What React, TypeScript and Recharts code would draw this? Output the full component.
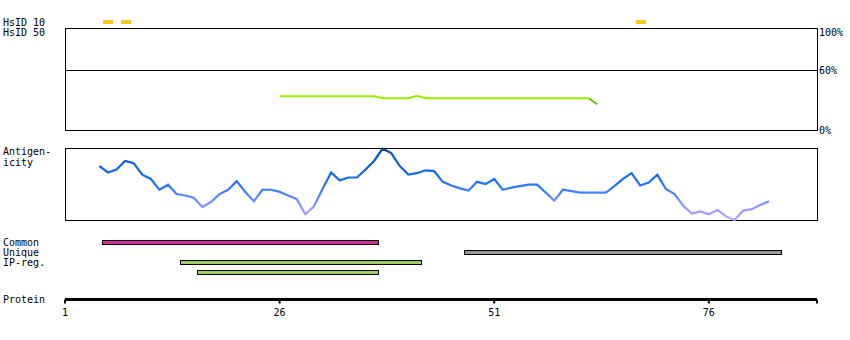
import React from 'react';
import {
  BarChart,
  Bar,
  LineChart,
  Line,
  ComposedChart,
  XAxis,
  YAxis,
  ReferenceArea,
  ReferenceLine,
  Cell,
} from 'recharts';

const MONO = "'DejaVu Sans Mono', monospace";
const W = 850;

// residue axis
const RESIDUE_DOMAIN: [number, number] = [1, 88.6];
const POSITION_TICKS = [1, 26, 51, 76, 88.6];

// HsID 10 hits (residue numbers)
const hsId10Hits = [6, 8, 68];

// HsID 50 identity in %, residues 26..63
const IDENTITY_FIRST = 26;
const IDENTITY_MAX = 102;
const IDENTITY_TICKS = [0, 60, 100];
const identityPct = [
  33.7, 33.7, 33.7, 33.7, 33.7, 33.7, 33.7, 33.7, 33.7, 33.7, 33.7, 33.7,
  31.7, 31.7, 31.7, 31.7, 34.3, 31.7, 31.7, 31.7, 31.7, 31.7, 31.7, 31.7,
  31.7, 31.7, 31.7, 31.7, 31.7, 31.7, 31.7, 31.7, 31.7, 31.7, 31.7, 31.7,
  31.7, 25.7,
];
const IDENTITY_LOW = 30;

// antigenicity score 0..1, residues 5..83
const ANTIGEN_FIRST = 5;
const antigenScores = [
  0.75, 0.66, 0.70, 0.82, 0.79, 0.63, 0.57, 0.42, 0.49, 0.36,
  0.34, 0.31, 0.18, 0.25, 0.36, 0.42, 0.54, 0.39, 0.26, 0.42,
  0.42, 0.39, 0.34, 0.29, 0.08, 0.19, 0.43, 0.66, 0.55, 0.59,
  0.59, 0.70, 0.82, 0.99, 0.93, 0.75, 0.63, 0.65, 0.69, 0.68,
  0.53, 0.48, 0.44, 0.41, 0.53, 0.50, 0.57, 0.42, 0.45, 0.47,
  0.49, 0.49, 0.38, 0.27, 0.42, 0.40, 0.38, 0.38, 0.38, 0.38,
  0.47, 0.57, 0.65, 0.48, 0.52, 0.63, 0.43, 0.36, 0.20, 0.09,
  0.12, 0.08, 0.14, 0.05, 0.00, 0.13, 0.15, 0.21, 0.26,
];

// feature tracks
const featureLabels = ['Common', 'Unique', 'IP-reg.', ' '];
const featureStarts = [5.4, 47.5, 14.4, 16.4];
const featureEnds = [37.5, 84.5, 42.5, 37.5];
const featureColors = ['#cc3399', '#999999', '#a0cc66', '#a0cc66'];

const hitData = hsId10Hits.map((r) => ({ res: r, hit: 1 }));

// low-identity stretch is drawn darker, joined to the point before it
const identityData = identityPct.map((v, i) => {
  const next = identityPct[i + 1];
  const low = v < IDENTITY_LOW || (next !== undefined && next < IDENTITY_LOW);
  return {
    res: IDENTITY_FIRST + i,
    pct: v >= IDENTITY_LOW ? v : null,
    tail: low ? v : null,
  };
});

const antigenData = antigenScores.map((v, i) => ({ res: ANTIGEN_FIRST + i, score: v }));

const featureData = featureLabels.map((label, i) => ({
  label,
  range: [featureStarts[i], featureEnds[i]],
  color: featureColors[i],
}));

const axisData = POSITION_TICKS.map((r) => ({ res: r }));

function PctTick({ x, y, payload }: any) {
  const shift = payload.value === 100 ? 2 : 0;
  return (
    <text x={x} y={y + shift + 3.5} textAnchor="start" fontSize={10} fontFamily={MONO} fill="#000">
      {payload.value}%
    </text>
  );
}

function RowTick({ y, payload }: any) {
  return (
    <text x={3} y={y + 3.5} textAnchor="start" fontSize={10} fontFamily={MONO} fill="#000">
      {payload.value}
    </text>
  );
}

const abs = (top: number, height: number): React.CSSProperties => ({
  position: 'absolute',
  left: 0,
  top,
  width: W,
  height,
});

export default function App() {
  return (
    <div style={{ position: 'absolute', left: 0, top: 0, width: W, height: 340, background: '#fff' }}>
      <style>{`.recharts-reference-area-rect, .recharts-reference-line-line, .recharts-rectangle { shape-rendering: crispEdges; }`}</style>

      {/* HsID 10 hits */}
      <div style={abs(16, 12)}>
        <BarChart width={W} height={12} data={hitData} margin={{ top: 4, right: 33, bottom: 4, left: 65 }}>
          <XAxis type="number" dataKey="res" domain={RESIDUE_DOMAIN} hide />
          <YAxis domain={[0, 1]} hide />
          <Bar dataKey="hit" fill="#fcc820" barSize={10} isAnimationActive={false} />
        </BarChart>
      </div>

      {/* HsID 50 identity */}
      <div style={abs(0, 140)}>
        <LineChart width={W} height={140} data={identityData} margin={{ top: 28, right: 0, bottom: 10, left: 65 }}>
          <XAxis type="number" dataKey="res" domain={RESIDUE_DOMAIN} hide />
          <YAxis
            orientation="right"
            domain={[0, IDENTITY_MAX]}
            ticks={IDENTITY_TICKS}
            interval={0}
            width={33}
            axisLine={false}
            tickLine={false}
            tickSize={0}
            tickMargin={2}
            tick={<PctTick />}
          />
          <ReferenceArea x1={RESIDUE_DOMAIN[0]} x2={RESIDUE_DOMAIN[1]} y1={0} y2={IDENTITY_MAX} fill="none" stroke="#000" strokeWidth={1} fillOpacity={0} />
          <ReferenceLine y={60} stroke="#000" strokeWidth={1} />
          <Line dataKey="pct" stroke="#99ee00" strokeWidth={2} dot={false} isAnimationActive={false} connectNulls={false} />
          <Line dataKey="tail" stroke="#66bb11" strokeWidth={2} dot={false} isAnimationActive={false} connectNulls={false} />
        </LineChart>
      </div>

      {/* Antigenicity */}
      <div style={abs(140, 90)}>
        <LineChart width={W} height={90} data={antigenData} margin={{ top: 8, right: 33, bottom: 10, left: 65 }}>
          <defs>
            <linearGradient id="antigenGrad" x1="0" y1="0" x2="0" y2="1">
              <stop offset="0" stopColor="#08449a" />
              <stop offset="0.1" stopColor="#0d56c4" />
              <stop offset="0.25" stopColor="#1264e4" />
              <stop offset="0.45" stopColor="#1a70f5" />
              <stop offset="0.6" stopColor="#3f80ff" />
              <stop offset="0.75" stopColor="#7890ff" />
              <stop offset="0.9" stopColor="#a49eff" />
              <stop offset="1" stopColor="#b4a4f8" />
            </linearGradient>
          </defs>
          <XAxis type="number" dataKey="res" domain={RESIDUE_DOMAIN} hide />
          <YAxis domain={[0, 1]} hide />
          <ReferenceArea x1={RESIDUE_DOMAIN[0]} x2={RESIDUE_DOMAIN[1]} y1={0} y2={1} fill="none" stroke="#000" strokeWidth={1} fillOpacity={0} />
          <Line dataKey="score" stroke="url(#antigenGrad)" strokeWidth={2.2} dot={false} isAnimationActive={false} />
        </LineChart>
      </div>

      {/* Feature tracks */}
      <div style={abs(230, 60)}>
        <BarChart width={W} height={60} data={featureData} layout="vertical" margin={{ top: 7, right: 33, bottom: 13, left: 0 }}>
          <XAxis type="number" domain={RESIDUE_DOMAIN} hide />
          <YAxis type="category" dataKey="label" width={65} interval={0} axisLine={false} tickLine={false} tick={<RowTick />} />
          <Bar dataKey="range" barSize={4} stroke="#000" strokeWidth={1} isAnimationActive={false}>
            {featureData.map((d, i) => (
              <Cell key={i} fill={d.color} />
            ))}
          </Bar>
        </BarChart>
      </div>

      {/* Protein position axis */}
      <div style={abs(285, 45)}>
        <ComposedChart width={W} height={45} data={axisData} margin={{ top: 0, right: 33, bottom: 0, left: 65 }}>
          <XAxis
            type="number"
            dataKey="res"
            domain={RESIDUE_DOMAIN}
            ticks={POSITION_TICKS}
            interval={0}
            height={30.5}
            axisLine={{ stroke: '#000', strokeWidth: 3 }}
            tickLine={{ stroke: '#000', strokeWidth: 2 }}
            tickSize={4}
            tickMargin={5}
            tick={{ fontSize: 10, fontFamily: MONO, fill: '#000' }}
            tickFormatter={(v: number) => (v === RESIDUE_DOMAIN[1] ? '' : String(v))}
          />
          <YAxis hide />
        </ComposedChart>
      </div>

      {/* Track labels */}
      <svg width={W} height={340} style={{ position: 'absolute', left: 0, top: 0, pointerEvents: 'none' }}>
        <g fontSize={10} fontFamily={MONO} fill="#000">
          <text x={3} y={25.5}>HsID 10</text>
          <text x={3} y={36}>HsID 50</text>
          <text x={3} y={155}>Antigen-</text>
          <text x={3} y={165.5}>icity</text>
          <text x={3} y={303}>Protein</text>
        </g>
      </svg>
    </div>
  );
}
